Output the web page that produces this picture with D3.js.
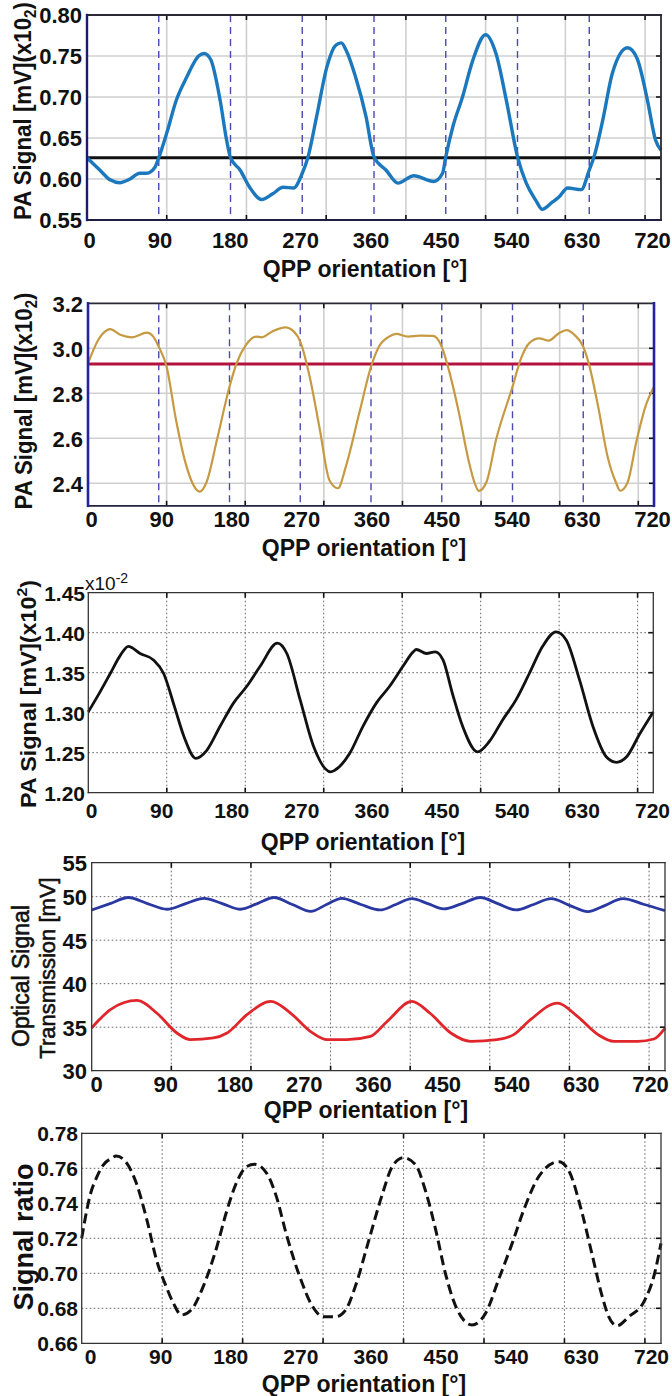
<!DOCTYPE html>
<html>
<head>
<meta charset="utf-8">
<script src="https://cdn.jsdelivr.net/npm/d3@7/dist/d3.min.js"></script>
<style>
  html, body { margin: 0; padding: 0; background: #fff; }
  svg { display: block; }
</style>
</head>
<body>
<script>
// ---------------- DATA ----------------
const xTickLabels = [0, 90, 180, 270, 360, 450, 540, 630, 720];
const gridAngles = [100, 200, 300, 400, 500, 600, 700];
const markerAngles = [90, 180, 270, 360, 450, 540, 630];

// Panel 1
const p1YTicks = [0.55, 0.60, 0.65, 0.70, 0.75, 0.80];
const p1YGrid = [0.60, 0.65, 0.70, 0.75];
const p1Reference = 0.626;
const p1Angles = [0, 16, 29, 41, 54, 66, 75, 85, 90, 100, 112, 125, 140, 147, 155, 167, 175, 180, 192, 204, 219, 233, 246, 259, 270, 277, 288, 301, 312, 319, 325, 337, 350, 360, 375, 390, 410, 435, 446, 450, 459, 471, 484, 500, 513, 526, 540, 551, 563, 571, 584, 592, 603, 620, 630, 636, 647, 659, 678, 690, 703, 713, 720];
const p1Values = [0.626, 0.611, 0.599, 0.5955, 0.600, 0.607, 0.607, 0.614, 0.626, 0.656, 0.696, 0.724, 0.750, 0.753, 0.746, 0.696, 0.648, 0.626, 0.611, 0.590, 0.575, 0.582, 0.590, 0.589, 0.607, 0.626, 0.676, 0.737, 0.763, 0.766, 0.757, 0.724, 0.676, 0.627, 0.611, 0.595, 0.604, 0.597, 0.607, 0.627, 0.664, 0.700, 0.745, 0.776, 0.753, 0.696, 0.627, 0.595, 0.574, 0.563, 0.572, 0.578, 0.589, 0.587, 0.611, 0.627, 0.672, 0.729, 0.760, 0.747, 0.696, 0.648, 0.635];

// Panel 2
const p2YTicks = [2.4, 2.6, 2.8, 3.0, 3.2];
const p2YGrid = [2.4, 2.6, 2.8, 3.0];
const p2Reference = 2.930;
const p2Angles = [0, 13, 24, 28, 41, 56, 75, 83, 90, 100, 112, 123, 134, 142, 151, 164, 180, 189, 201, 214, 221, 234, 251, 262, 270, 282, 295, 307, 318, 328, 345, 360, 370, 383, 392, 407, 422, 439, 450, 459, 472, 484, 492, 497, 507, 519, 540, 551, 561, 574, 586, 599, 609, 619, 630, 637, 649, 661, 672, 677, 686, 698, 709, 720];
const p2Values = [2.933, 3.037, 3.080, 3.085, 3.060, 3.049, 3.070, 3.052, 3.007, 2.918, 2.681, 2.504, 2.393, 2.363, 2.407, 2.592, 2.829, 2.933, 3.015, 3.052, 3.049, 3.074, 3.093, 3.074, 3.030, 2.874, 2.637, 2.415, 2.378, 2.474, 2.711, 2.918, 3.007, 3.052, 3.064, 3.052, 3.056, 3.055, 3.007, 2.904, 2.711, 2.504, 2.400, 2.366, 2.407, 2.592, 2.829, 2.956, 3.022, 3.044, 3.034, 3.067, 3.081, 3.059, 3.007, 2.933, 2.740, 2.518, 2.400, 2.367, 2.400, 2.592, 2.740, 2.829];

// Panel 3
const p3YTicks = [1.20, 1.25, 1.30, 1.35, 1.40, 1.45];
const p3YGrid = [1.25, 1.30, 1.35, 1.40];
const p3Angles = [0, 15, 28, 41, 51, 66, 83, 96, 110, 122, 137, 151, 168, 185, 202, 219, 241, 253, 270, 287, 309, 314, 333, 350, 367, 384, 401, 414, 418, 431, 442, 452, 464, 477, 496, 511, 528, 545, 562, 579, 596, 609, 626, 643, 660, 673, 686, 703, 720];
const p3Values = [1.301, 1.326, 1.349, 1.372, 1.383, 1.374, 1.366, 1.349, 1.307, 1.270, 1.243, 1.253, 1.283, 1.312, 1.333, 1.358, 1.387, 1.374, 1.316, 1.258, 1.226, 1.228, 1.249, 1.283, 1.312, 1.333, 1.358, 1.376, 1.379, 1.374, 1.376, 1.366, 1.324, 1.283, 1.251, 1.264, 1.291, 1.316, 1.349, 1.383, 1.401, 1.391, 1.341, 1.283, 1.245, 1.238, 1.245, 1.274, 1.301];

// Panel 4
const p4YTicks = [30, 35, 40, 45, 50, 55];
const p4YGrid = [35, 40, 45, 50];
const p4BlueAngles = [0, 23, 46, 70, 94.5, 118, 141, 164, 187, 208, 229, 252, 275, 295, 314, 338, 362, 382, 402, 422, 442, 465, 488, 510, 533, 555, 577, 600, 623, 645, 667, 694, 720];
const p4BlueValues = [48.47, 49.2, 49.9, 49.2, 48.55, 49.2, 49.8, 49.2, 48.55, 49.2, 49.9, 49.1, 48.3, 49.1, 49.8, 49.1, 48.47, 49.1, 49.77, 49.2, 48.59, 49.2, 49.9, 49.2, 48.47, 49.1, 49.77, 49.0, 48.28, 49.0, 49.77, 49.1, 48.4];
const p4RedAngles = [0, 10, 23, 57, 82, 107, 124, 153, 170, 195, 225, 250, 275, 296, 320, 350, 371, 402, 425, 451, 476, 509, 530, 551, 585, 610, 636, 656, 686, 706, 720];
const p4RedValues = [34.9, 35.9, 37.0, 38.07, 36.6, 34.33, 33.56, 33.76, 34.33, 36.43, 37.96, 36.6, 34.5, 33.56, 33.56, 33.94, 35.66, 37.96, 36.6, 34.33, 33.37, 33.56, 34.14, 35.86, 37.77, 36.24, 34.14, 33.37, 33.37, 33.64, 34.9];

// Panel 5
const p5YTicks = [0.66, 0.68, 0.70, 0.72, 0.74, 0.76, 0.78];
const p5YGrid = [0.68, 0.70, 0.72, 0.74, 0.76];
const p5Angles = [0, 4, 10, 19, 27, 37, 43, 56, 68, 81, 93, 105, 114, 124, 136, 151, 168, 180, 192, 205, 215, 230, 242, 254, 271, 287, 300, 316, 328, 340, 357, 374, 386, 400, 415, 427, 440, 452, 465, 485, 502, 518, 535, 551, 568, 593, 605, 622, 634, 647, 655, 665, 680, 700, 711, 720];
const p5Values = [0.720, 0.7305, 0.7438, 0.7552, 0.762, 0.7657, 0.767, 0.7629, 0.7514, 0.7305, 0.7076, 0.6924, 0.6829, 0.6762, 0.679, 0.6924, 0.7152, 0.7352, 0.7514, 0.761, 0.7623, 0.7571, 0.7438, 0.7229, 0.6981, 0.681, 0.6752, 0.6752, 0.679, 0.6924, 0.7191, 0.7457, 0.761, 0.7661, 0.762, 0.7476, 0.7248, 0.700, 0.681, 0.6705, 0.6772, 0.6962, 0.7171, 0.7381, 0.7552, 0.7638, 0.759, 0.7343, 0.7114, 0.6867, 0.6752, 0.670, 0.6752, 0.6848, 0.6981, 0.7171];

// ---------------- DRAWING ----------------
const W = 672, H = 1396;
const FONT = '"Liberation Sans", Arial, Helvetica, sans-serif';
const svg = d3.select('body').append('svg').attr('width', W).attr('height', H)
  .style('font-family', FONT);
svg.append('rect').attr('width', W).attr('height', H).attr('fill', '#fff');

const zip = (a, b) => a.map((v, i) => [v, b[i]]);

function panel(cfg) {
  const g = svg.append('g');
  const x = d3.scaleLinear().domain([0, 720]).range([cfg.left, cfg.right]);
  const y = d3.scaleLinear().domain(cfg.yDomain).range([cfg.bottom, cfg.top]).clamp(true);
  const xl = d3.scaleLinear().domain([0, 720]).range(cfg.labelRange);

  // grid
  const gridStyle = sel => {
    sel.attr('stroke', cfg.gridColor).attr('stroke-width', cfg.gridWidth);
    if (cfg.gridDash) sel.attr('stroke-dasharray', cfg.gridDash);
  };
  g.selectAll('.gx').data(gridAngles).join('line')
    .attr('x1', d => x(d)).attr('x2', d => x(d))
    .attr('y1', cfg.top).attr('y2', cfg.bottom).call(gridStyle);
  g.selectAll('.gy').data(cfg.yGrid).join('line')
    .attr('x1', cfg.left).attr('x2', cfg.right)
    .attr('y1', d => y(d)).attr('y2', d => y(d)).call(gridStyle);

  // tick marks (inward) at grid positions
  const tk = 5;
  gridAngles.forEach(a => {
    g.append('line').attr('x1', x(a)).attr('x2', x(a)).attr('y1', cfg.bottom).attr('y2', cfg.bottom - tk)
      .attr('stroke', '#111').attr('stroke-width', 1.6);
    g.append('line').attr('x1', x(a)).attr('x2', x(a)).attr('y1', cfg.top).attr('y2', cfg.top + tk)
      .attr('stroke', '#111').attr('stroke-width', 1.6);
  });
  cfg.yGrid.forEach(v => {
    g.append('line').attr('x1', cfg.right).attr('x2', cfg.right - tk).attr('y1', y(v)).attr('y2', y(v))
      .attr('stroke', '#111').attr('stroke-width', 1.6);
  });

  // dashed orientation markers
  if (cfg.markers) {
    g.selectAll('.mk').data(markerAngles).join('line')
      .attr('x1', d => x(d)).attr('x2', d => x(d))
      .attr('y1', cfg.top).attr('y2', cfg.bottom)
      .attr('stroke', '#4a4ab0').attr('stroke-width', 1.4).attr('stroke-dasharray', '7,5');
  }

  // reference line
  if (cfg.ref !== undefined) {
    g.append('line').attr('x1', cfg.left).attr('x2', cfg.right)
      .attr('y1', y(cfg.ref)).attr('y2', y(cfg.ref))
      .attr('stroke', cfg.refColor).attr('stroke-width', 3);
  }

  // curves
  const line = d3.line().x(d => x(d[0])).y(d => y(d[1])).curve(d3.curveMonotoneX);
  cfg.series.forEach(s => {
    const p = g.append('path').datum(zip(s.angles, s.values))
      .attr('d', line).attr('fill', 'none')
      .attr('stroke', s.color).attr('stroke-width', s.width)
      .attr('stroke-linejoin', 'round').attr('stroke-linecap', 'butt');
    if (s.dash) p.attr('stroke-dasharray', s.dash);
  });

  // frame
  const edge = (x1, y1, x2, y2, c, w) => g.append('line').attr('x1', x1).attr('y1', y1).attr('x2', x2).attr('y2', y2)
    .attr('stroke', c).attr('stroke-width', w).attr('stroke-linecap', 'square');
  edge(cfg.left, cfg.top, cfg.right, cfg.top, cfg.topColor, cfg.frameWidth);
  edge(cfg.left, cfg.bottom, cfg.right, cfg.bottom, cfg.bottomColor, cfg.frameWidth);
  edge(cfg.right, cfg.top, cfg.right, cfg.bottom, cfg.rightColor, cfg.rightWidth);
  edge(cfg.left, cfg.top, cfg.left, cfg.bottom, cfg.leftColor, cfg.leftWidth);

  // x tick labels
  const xa = g.append('g').attr('transform', `translate(0,${cfg.xLabelBase})`)
    .call(d3.axisBottom(xl).tickValues(xTickLabels).tickSize(0).tickPadding(0).tickFormat(d3.format('d')));
  xa.select('.domain').remove();
  xa.selectAll('text').attr('y', 0).attr('dy', 0).attr('fill', '#111')
    .style('font-family', FONT).style('font-size', cfg.tickFont + 'px').style('font-weight', 'bold');

  // y tick labels
  const ya = g.append('g').attr('transform', `translate(${cfg.yLabelX},0)`)
    .call(d3.axisLeft(y).tickValues(cfg.yTicks).tickSize(0).tickPadding(0).tickFormat(d3.format(cfg.yFormat)));
  ya.select('.domain').remove();
  ya.selectAll('text').attr('x', 0).attr('dy', '0.36em').attr('fill', '#111')
    .style('font-family', FONT).style('font-size', cfg.tickFont + 'px').style('font-weight', 'bold');

  // x title
  g.append('text').attr('x', cfg.titleX).attr('y', cfg.titleBase).attr('text-anchor', 'middle')
    .attr('fill', '#111').style('font-size', '23px').style('font-weight', 'bold')
    .text('QPP orientation [°]');

  return { g, x, y };
}

function paLabel(g, cx, cy, fontSize, length, sup) {
  const t = g.append('text')
    .attr('transform', `translate(${cx},${cy}) rotate(-90)`)
    .attr('text-anchor', 'middle').attr('fill', '#111')
    .style('font-size', fontSize + 'px').style('font-weight', 'bold')
    .attr('textLength', length).attr('lengthAdjust', 'spacingAndGlyphs');
  t.append('tspan').text('PA Signal [mV](x10');
  t.append('tspan').attr('dy', sup ? -fontSize * 0.4 : fontSize * 0.2)
    .style('font-size', (fontSize * 0.68) + 'px').text('2');
  t.append('tspan').attr('dy', sup ? fontSize * 0.4 : -fontSize * 0.2).text(')');
}

// Panel 1
const P1 = panel({
  left: 87, right: 661, top: 15, bottom: 220,
  yDomain: [0.55, 0.80], yTicks: p1YTicks, yGrid: p1YGrid, yFormat: '.2f',
  labelRange: [89, 652], gridColor: '#cfcfcf', gridWidth: 1.6, gridDash: null,
  markers: true, ref: p1Reference, refColor: '#111',
  series: [{ angles: p1Angles, values: p1Values, color: '#1b78bd', width: 3.4 }],
  topColor: '#2a2a34', bottomColor: '#1e1e40', rightColor: '#2a2a34', leftColor: '#1c1c6c',
  frameWidth: 1.8, rightWidth: 1.8, leftWidth: 2.4,
  xLabelBase: 248, yLabelX: 82, tickFont: 22, titleX: 365, titleBase: 277
});
paLabel(P1.g, 31, 111, 23, 218, false);

// Panel 2
const P2 = panel({
  left: 88, right: 654, top: 303.3, bottom: 505.8,
  yDomain: [2.30, 3.20], yTicks: p2YTicks, yGrid: p2YGrid, yFormat: '.1f',
  labelRange: [91, 652], gridColor: '#cfcfcf', gridWidth: 1.6, gridDash: null,
  markers: true, ref: p2Reference, refColor: '#b3123c',
  series: [{ angles: p2Angles, values: p2Values, color: '#c69a42', width: 2.2 }],
  topColor: '#2a2a34', bottomColor: '#22223a', rightColor: '#2323a0', leftColor: '#2323a0',
  frameWidth: 1.8, rightWidth: 2.6, leftWidth: 2.6,
  xLabelBase: 527, yLabelX: 83, tickFont: 22, titleX: 364, titleBase: 556
});
paLabel(P2.g, 32, 401, 23, 217, false);

// Panel 3
const P3 = panel({
  left: 88.3, right: 653.3, top: 592.7, bottom: 792.7,
  yDomain: [1.20, 1.45], yTicks: p3YTicks, yGrid: p3YGrid, yFormat: '.2f',
  labelRange: [91, 652], gridColor: '#666', gridWidth: 1, gridDash: '1.6,2.4',
  markers: false,
  series: [{ angles: p3Angles, values: p3Values, color: '#111', width: 2.8 }],
  topColor: '#333', bottomColor: '#333', rightColor: '#333', leftColor: '#333',
  frameWidth: 1.3, rightWidth: 1.3, leftWidth: 1.3,
  xLabelBase: 818, yLabelX: 85, tickFont: 21, titleX: 363, titleBase: 850
});
paLabel(P3.g, 36, 694, 22, 228, true);
{
  const t = P3.g.append('text').attr('x', 85).attr('y', 590).attr('fill', '#111')
    .style('font-size', '19px');
  t.append('tspan').text('x10');
  t.append('tspan').attr('dy', -7).style('font-size', '14px').text('-2');
}

// Panel 4
const P4 = panel({
  left: 91.7, right: 665, top: 862.7, bottom: 1070.7,
  yDomain: [30, 53.9], yTicks: p4YTicks, yGrid: p4YGrid, yFormat: 'd',
  labelRange: [96, 650], gridColor: '#666', gridWidth: 1, gridDash: '1.6,2.4',
  markers: false,
  series: [
    { angles: p4BlueAngles, values: p4BlueValues, color: '#2a38a2', width: 2.8 },
    { angles: p4RedAngles, values: p4RedValues, color: '#e0262a', width: 2.8 }
  ],
  topColor: '#333', bottomColor: '#333', rightColor: '#333', leftColor: '#333',
  frameWidth: 1.3, rightWidth: 1.3, leftWidth: 1.3,
  xLabelBase: 1092, yLabelX: 87, tickFont: 22, titleX: 366, titleBase: 1118
});
P4.g.append('text').attr('transform', 'translate(29,976) rotate(-90)')
  .attr('text-anchor', 'middle').attr('fill', '#111').attr('stroke', '#111').attr('stroke-width', 0.6)
  .style('font-size', '23px').text('Optical Signal');
P4.g.append('text').attr('transform', 'translate(55,968) rotate(-90)')
  .attr('text-anchor', 'middle').attr('fill', '#111').attr('stroke', '#111').attr('stroke-width', 0.6)
  .style('font-size', '22px').text('Transmission [mV]');

// Panel 5
const P5 = panel({
  left: 81.7, right: 661, top: 1133.3, bottom: 1343.3,
  yDomain: [0.66, 0.78], yTicks: p5YTicks, yGrid: p5YGrid, yFormat: '.2f',
  labelRange: [90, 651], gridColor: '#666', gridWidth: 1, gridDash: '1.6,2.4',
  markers: false,
  series: [{ angles: p5Angles, values: p5Values, color: '#111', width: 3, dash: '10,5' }],
  topColor: '#333', bottomColor: '#333', rightColor: '#333', leftColor: '#333',
  frameWidth: 1.3, rightWidth: 1.3, leftWidth: 1.3,
  xLabelBase: 1364, yLabelX: 78, tickFont: 21, titleX: 364, titleBase: 1392
});
P5.g.append('text').attr('transform', 'translate(33,1237) rotate(-90)')
  .attr('text-anchor', 'middle').attr('fill', '#111')
  .style('font-size', '27px').style('font-weight', 'bold').text('Signal ratio');
</script>
</body>
</html>
